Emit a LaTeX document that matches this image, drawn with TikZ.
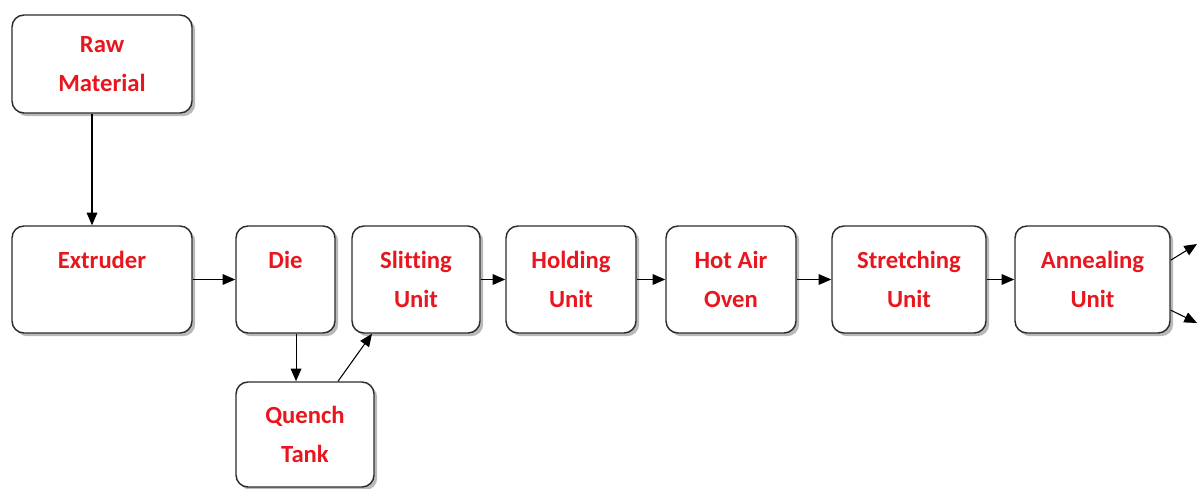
\documentclass[tikz,border=0pt]{standalone}
\usepackage{fontspec}
\setmainfont{Carlito}[Ligatures=NoCommon]
\usetikzlibrary{arrows.meta,shadows}
\definecolor{lbl}{RGB}{232,22,30}
\definecolor{edge}{RGB}{45,45,45}
\begin{document}
\begin{tikzpicture}[x=0.75pt,y=-0.75pt,
  box/.style={draw=edge, line width=1.1pt, rounded corners=9pt, fill=white,
    drop shadow={shadow xshift=2.4pt, shadow yshift=-2.4pt, fill=black!55},
    minimum height=80.25pt, inner sep=0pt, align=center,
    font=\fontsize{18.5}{29}\selectfont\bfseries, text=lbl},
  arr/.style={draw=black, line width=0.8pt, -{Triangle[length=9.5pt,width=8pt]}}]
\useasboundingbox (0,0) rectangle (1200,489);
% process stations
\node[box, minimum width=135pt, minimum height=73.5pt] (raw) at (102,64) {Raw\\Material};
\node[box, minimum width=135pt] (ext) at (102,279.5) {Extruder\\\phantom{X}};
\node[box, minimum width=74.25pt] (die) at (285.5,279.5) {Die\\\phantom{X}};
\node[box, minimum width=96pt] (slit) at (416,279.5) {Slitting\\Unit};
\node[box, minimum width=97.5pt] (hold) at (571,279.5) {Holding\\Unit};
\node[box, minimum width=97.5pt] (oven) at (731,279.5) {Hot Air\\Oven};
\node[box, minimum width=115.5pt] (str) at (909,279.5) {Stretching\\Unit};
\node[box, minimum width=116.25pt] (ann) at (1092.5,279.5) {Annealing\\Unit};
\node[box, minimum width=103.5pt, minimum height=78.75pt] (qt) at (305,434.5) {Quench\\Tank};
% free ends of the outgoing lines
\coordinate (out1) at (1197,244);
\coordinate (out2) at (1197,323);
% material flow
\draw[arr] ([xshift=-7.5pt]raw.south) -- ([xshift=-7.5pt]ext.north);
\draw[arr] (ext.east) -- (die.west);
\draw[arr] ([xshift=7.9pt]die.south) -- ([xshift=7.9pt]die.south |- qt.north);
\draw[arr] ([xshift=24.75pt]qt.north) -- ([xshift=-33pt]slit.south);
\draw[arr] (slit.east) -- (hold.west);
\draw[arr] (hold.east) -- (oven.west);
\draw[arr] (oven.east) -- (str.west);
\draw[arr] (str.east) -- (ann.west);
\draw[arr] ([yshift=14.5pt]ann.east) -- (out1);
\draw[arr] ([yshift=-23pt]ann.east) -- (out2);
\end{tikzpicture}
\end{document}
